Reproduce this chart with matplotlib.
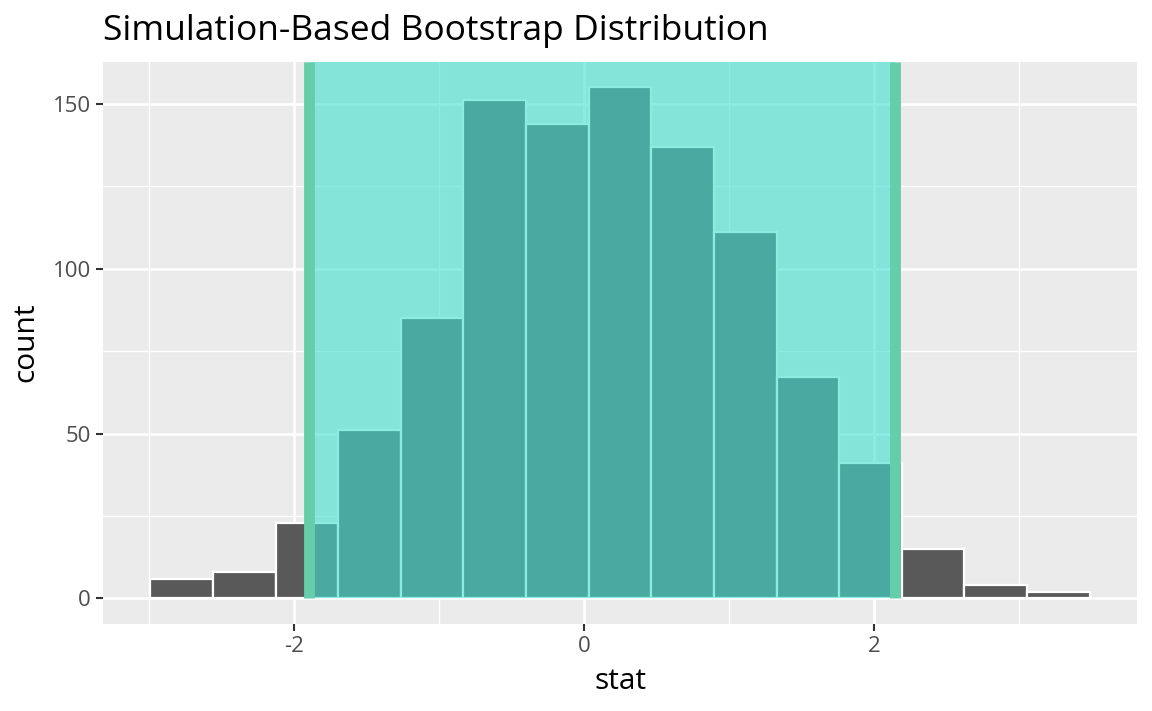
import numpy as np
import matplotlib
matplotlib.use("Agg")
import matplotlib.pyplot as plt
from matplotlib.ticker import FixedLocator

# ---- data ----
counts = [6, 8, 23, 51, 85, 151, 144, 155, 137, 111, 67, 41, 15, 4, 2]
bin_start = -2.993
bin_width = 0.432
ci_lower = -1.90
ci_upper = 2.143
x_ticks = [-2, 0, 2]
x_minor = [-3, -1, 1, 3]
y_ticks = [0, 50, 100, 150]
y_minor = [25, 75, 125]
title = "Simulation-Based Bootstrap Distribution"
xlabel = "stat"
ylabel = "count"

plt.rcParams['font.family'] = ['Open Sans', 'DejaVu Sans']

W, H = 1152, 711
fig = plt.figure(figsize=(W / 100, H / 100), dpi=100)
L, R, T, B = 103.3, 1136.7, 61.7, 624.0
ax = fig.add_axes([L / W, 1 - B / H, (R - L) / W, (B - T) / H])
ax.set_facecolor('#EBEBEB')
for s in ax.spines.values():
    s.set_visible(False)

edges = bin_start + bin_width * np.arange(len(counts) + 1)
ax.bar(edges[:-1], counts, width=bin_width, align='edge',
       color='#595959', edgecolor='white', linewidth=1.6, zorder=3)

xr = edges[-1] - edges[0]
ax.set_xlim(edges[0] - 0.05 * xr, edges[-1] + 0.05 * xr)
ymax = max(counts)
ylo, yhi = -0.05 * ymax, ymax * 1.05
ax.set_ylim(ylo, yhi)
y0_frac = (0 - ylo) / (yhi - ylo)

ax.axvspan(ci_lower, ci_upper, ymin=y0_frac, ymax=1, color='#40E0D0',
           alpha=0.6, lw=0, zorder=4)
for v in (ci_lower, ci_upper):
    ax.axvline(v, ymin=y0_frac, ymax=1, color='#66CDAA', lw=7.8, zorder=5,
               solid_capstyle='butt')

ax.xaxis.set_major_locator(FixedLocator(x_ticks))
ax.xaxis.set_minor_locator(FixedLocator(x_minor))
ax.yaxis.set_major_locator(FixedLocator(y_ticks))
ax.yaxis.set_minor_locator(FixedLocator(y_minor))
ax.set_xticklabels([str(v) for v in x_ticks])
ax.set_yticklabels([str(v) for v in y_ticks])

ax.grid(which='major', color='white', lw=1.9, zorder=1)
ax.grid(which='minor', color='white', lw=0.95, zorder=1)
ax.set_axisbelow(True)

ax.tick_params(which='major', length=5, width=1.5, color='#333333',
               labelcolor='#4D4D4D', labelsize=16, pad=4)
ax.tick_params(which='minor', length=0)

fig.text(L / W, 1 - 39.5 / H, title, fontsize=25.5, ha='left', va='baseline',
         color='black')
fig.text((L + R) / 2 / W, 1 - 689 / H, xlabel, fontsize=21.5, ha='center',
         va='baseline', color='black')
fig.text(26 / W, 1 - 342.7 / H, ylabel, fontsize=21.5, ha='center',
         va='center', rotation=90, color='black')

fig.savefig('out.png', dpi=100)
